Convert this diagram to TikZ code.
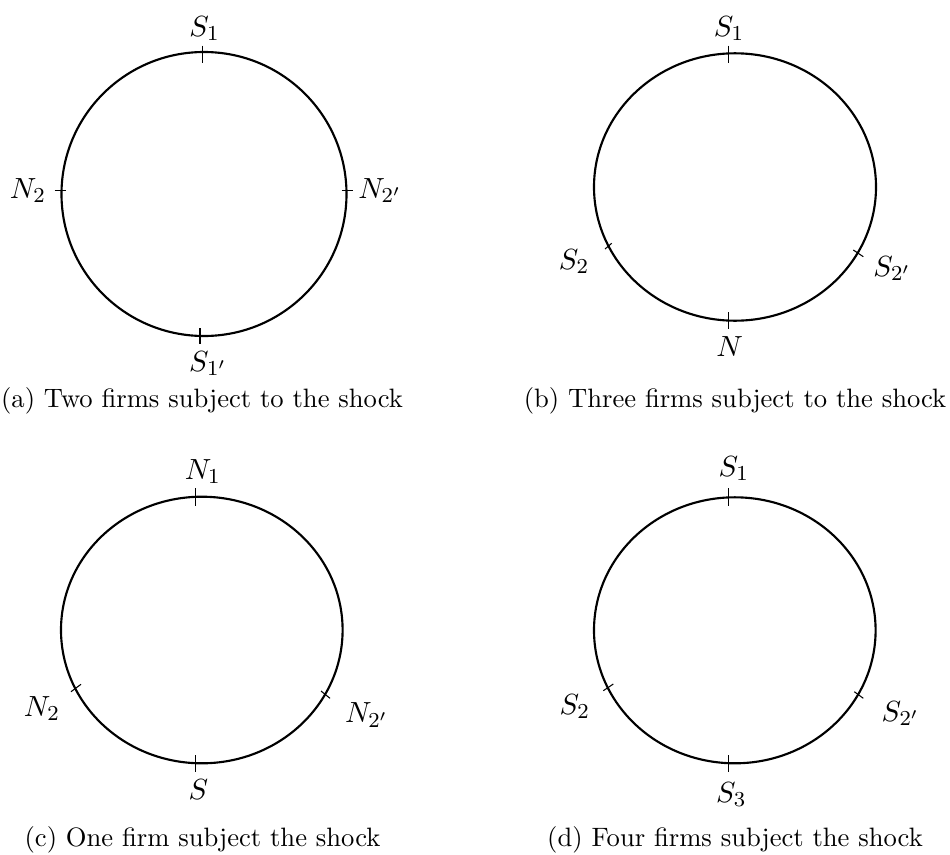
\documentclass[tikz,border=0pt]{standalone}
\begin{document}
\begin{tikzpicture}[x=0.3759pt,y=-0.3759pt,
  ring/.style={line width=0.8pt},
  tickmark/.style={line width=0.4pt},
  lab/.style={inner sep=0pt,outer sep=0pt,font=\fontsize{10.95}{13.6}\selectfont},
  capt/.style={inner sep=0pt,outer sep=0pt,anchor=base}]
\useasboundingbox (0,0) rectangle (950,854);
% ---------- (a) ----------
\draw[ring] (204,194) ellipse [x radius=142.5, y radius=142];
\draw[tickmark] (202.3,45.7) -- (202.3,63.3);
\draw[tickmark] (200,328.3) -- (200,344);
\draw[tickmark] (54.5,190.5) -- (65.5,190.5);
\draw[tickmark] (341.7,190.5) -- (352.7,190.5);
\node[lab,anchor=base] (aS1) at (204.5,36.5) {$S_1$};
\node[lab,anchor=base east] (aN2) at (46,198) {$N_2$};
\node[lab,anchor=base west] (aN2p) at (358.3,198) {$N_{2'}$};
\node[lab,anchor=base] (aS1p) at (208,371) {$S_{1'}$};
\node[capt] (capa) at (202,407) {(a) Two firms subject to the shock};
% ---------- (b) ----------
\draw[ring] (735,187) ellipse [x radius=141, y radius=133.7];
\draw[tickmark] (728.7,45.7) -- (728.7,62.7);
\draw[tickmark] (728.7,312.3) -- (728.7,329.3);
\draw[tickmark] (605,249) -- (611.7,243.3);
\draw[tickmark] (853.3,250) -- (863.3,256.7);
\node[lab,anchor=base] (bS1) at (729,36) {$S_1$};
\node[lab,anchor=base] (bN) at (729.7,356) {$N$};
\node[lab,anchor=base east] (bS2) at (589.3,269) {$S_2$};
\node[lab,anchor=base west] (bS2p) at (873.3,276) {$S_{2'}$};
\node[capt] (capb) at (735,407) {(b) Three firms subject to the shock};
% ---------- (c) ----------
\draw[ring] (201.8,630) ellipse [x radius=140.8, y radius=133.3];
\draw[tickmark] (195.7,488.3) -- (195.7,506);
\draw[tickmark] (195.7,755) -- (195.7,771.7);
\draw[tickmark] (71,691.7) -- (81,684.3);
\draw[tickmark] (321,691) -- (330,698.3);
\node[lab,anchor=base] (cN1) at (202.8,479) {$N_1$};
\node[lab,anchor=base east] (cN2) at (60,716) {$N_2$};
\node[lab,anchor=base west] (cN2p) at (345,722.5) {$N_{2'}$};
\node[lab,anchor=base] (cS) at (198.3,799) {$S$};
\node[capt] (capc) at (202.5,846) {(c) One firm subject the shock};
% ---------- (d) ----------
\draw[ring] (734.8,630.3) ellipse [x radius=140.8, y radius=133];
\draw[tickmark] (728.7,488.3) -- (728.7,506);
\draw[tickmark] (728.7,755) -- (728.7,772.3);
\draw[tickmark] (603.3,690.7) -- (613.3,684);
\draw[tickmark] (854.3,691.7) -- (863.3,698.3);
\node[lab,anchor=base] (dS1) at (733.8,476.5) {$S_1$};
\node[lab,anchor=base east] (dS2) at (590,714) {$S_2$};
\node[lab,anchor=base west] (dS2p) at (881.7,721) {$S_{2'}$};
\node[lab,anchor=base] (dS3) at (731.3,802) {$S_3$};
\node[capt] (capd) at (735,846) {(d) Four firms subject the shock};
\end{tikzpicture}
\end{document}
